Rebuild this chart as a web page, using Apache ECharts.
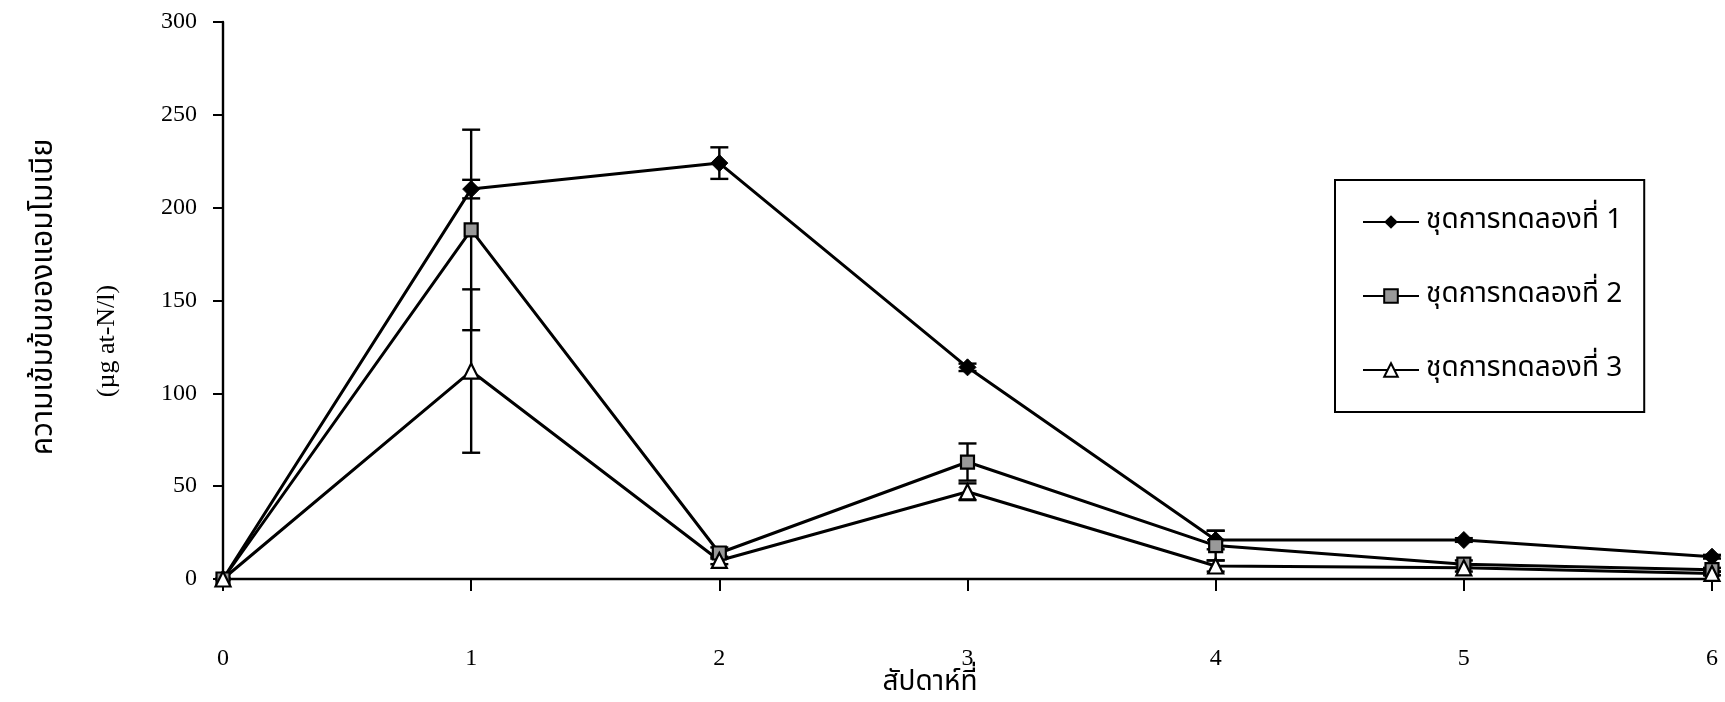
<!DOCTYPE html>
<html>
<head>
<meta charset="utf-8">
<script src="https://cdn.jsdelivr.net/npm/echarts@6/dist/echarts.min.js"></script>
<style>
  html, body { margin: 0; padding: 0; background: #fff; }
  #chart { width: 1725px; height: 702px; }
</style>
</head>
<body>
<div id="chart"></div>
<script>
// Weeks of the experiment
const weeks = [0, 1, 2, 3, 4, 5, 6];

// Ammonia concentration (µg at-N/l), mean per week for each treatment
const set1 = [0, 210, 224, 114, 21, 21, 12];
const set2 = [0, 188, 14, 63, 18, 8, 5];
const set3 = [0, 112, 10, 47, 7, 6, 3];

// Standard deviation per week for each treatment
const set1Err = [0, 5, 8.5, 2, 5, 1, 1];
const set2Err = [0, 54, 3, 10, 8, 2, 1];
const set3Err = [0, 44, 2, 4.5, 3, 2, 1];

const seriesNames = ['ชุดการทดลองที่ 1', 'ชุดการทดลองที่ 2', 'ชุดการทดลองที่ 3'];
const yTitle = 'ความเข้มข้นของแอมโมเนีย';
const yUnit = '(µg at-N/l)';
const xTitle = 'สัปดาห์ที่';

const thaiFont = '"Noto Sans Thai", "Noto Serif Thai", "Loma", "Garuda", "Norasi", "DejaVu Sans", sans-serif';
const numFont = '"Liberation Serif", "DejaVu Serif", serif';

const chart = echarts.init(document.getElementById('chart'));

function pairs(vals) {
  return weeks.map((w, i) => [w, vals[i]]);
}
function errPairs(vals, errs) {
  return weeks.map((w, i) => [w, vals[i] - errs[i], vals[i] + errs[i]]);
}

// Vertical error bar with caps at both ends
function renderErr(params, api) {
  const x = api.value(0);
  const lo = api.coord([x, api.value(1)]);
  const hi = api.coord([x, api.value(2)]);
  if (Math.abs(hi[1] - lo[1]) < 1) return null;
  const half = 9;
  const style = { stroke: '#000', lineWidth: 2.4 };
  return {
    type: 'group',
    children: [
      { type: 'line', shape: { x1: lo[0], y1: lo[1], x2: hi[0], y2: hi[1] }, style },
      { type: 'line', shape: { x1: lo[0] - half, y1: lo[1], x2: lo[0] + half, y2: lo[1] }, style },
      { type: 'line', shape: { x1: hi[0] - half, y1: hi[1], x2: hi[0] + half, y2: hi[1] }, style }
    ]
  };
}

const lineStyle = { color: '#000', width: 3 };

chart.setOption({
  animation: false,
  backgroundColor: '#fff',
  grid: { left: 223, right: 13, top: 22, bottom: 123, containLabel: false },
  xAxis: {
    type: 'value',
    min: 0, max: 6, interval: 1,
    axisLine: { show: true, onZero: false, lineStyle: { color: '#000', width: 2.4 } },
    axisTick: { show: true, length: 12, inside: false, lineStyle: { color: '#000', width: 2 } },
    axisLabel: { margin: 68, color: '#000', fontFamily: numFont, fontSize: 24 },
    splitLine: { show: false }
  },
  yAxis: {
    type: 'value',
    min: 0, max: 300, interval: 50,
    axisLine: { show: true, lineStyle: { color: '#000', width: 2.4 } },
    axisTick: { show: true, length: 10, lineStyle: { color: '#000', width: 2 } },
    axisLabel: { margin: 26, color: '#000', fontFamily: numFont, fontSize: 24 },
    splitLine: { show: false }
  },
  legend: {
    orient: 'vertical',
    left: 1335, top: 180,
    padding: [26, 22, 26, 27],
    itemGap: 42,
    itemWidth: 56,
    itemHeight: 17,
    borderColor: '#000',
    borderWidth: 2,
    textStyle: { color: '#000', fontFamily: thaiFont, fontSize: 28, lineHeight: 32, padding: [0, 0, 0, 2] },
    data: seriesNames
  },
  graphic: [
    {
      type: 'text', x: 46, y: 297, rotation: Math.PI / 2,
      style: { text: yTitle, fill: '#000', font: '30px ' + thaiFont, align: 'center', verticalAlign: 'middle' }
    },
    {
      type: 'text', x: 107, y: 341, rotation: Math.PI / 2,
      style: { text: yUnit, fill: '#000', font: '26px ' + numFont, align: 'center', verticalAlign: 'middle' }
    },
    {
      type: 'text', x: 930, y: 684,
      style: { text: xTitle, fill: '#000', font: '28px ' + thaiFont, align: 'center', verticalAlign: 'middle' }
    }
  ],
  series: [
    {
      name: seriesNames[0], type: 'line', data: pairs(set1),
      symbol: 'diamond', symbolSize: 17,
      itemStyle: { color: '#000', borderColor: '#000' },
      lineStyle, z: 5
    },
    {
      name: seriesNames[1], type: 'line', data: pairs(set2),
      symbol: 'rect', symbolSize: 13,
      itemStyle: { color: '#999', borderColor: '#000', borderWidth: 2.2 },
      lineStyle, z: 5
    },
    {
      name: seriesNames[2], type: 'line', data: pairs(set3),
      symbol: 'triangle', symbolSize: 15,
      itemStyle: { color: '#fff', borderColor: '#000', borderWidth: 2.2 },
      lineStyle, z: 5
    },
    { type: 'custom', renderItem: renderErr, data: errPairs(set1, set1Err), encode: { x: 0, y: [1, 2] }, z: 4, silent: true },
    { type: 'custom', renderItem: renderErr, data: errPairs(set2, set2Err), encode: { x: 0, y: [1, 2] }, z: 4, silent: true },
    { type: 'custom', renderItem: renderErr, data: errPairs(set3, set3Err), encode: { x: 0, y: [1, 2] }, z: 4, silent: true }
  ]
});
</script>
</body>
</html>
